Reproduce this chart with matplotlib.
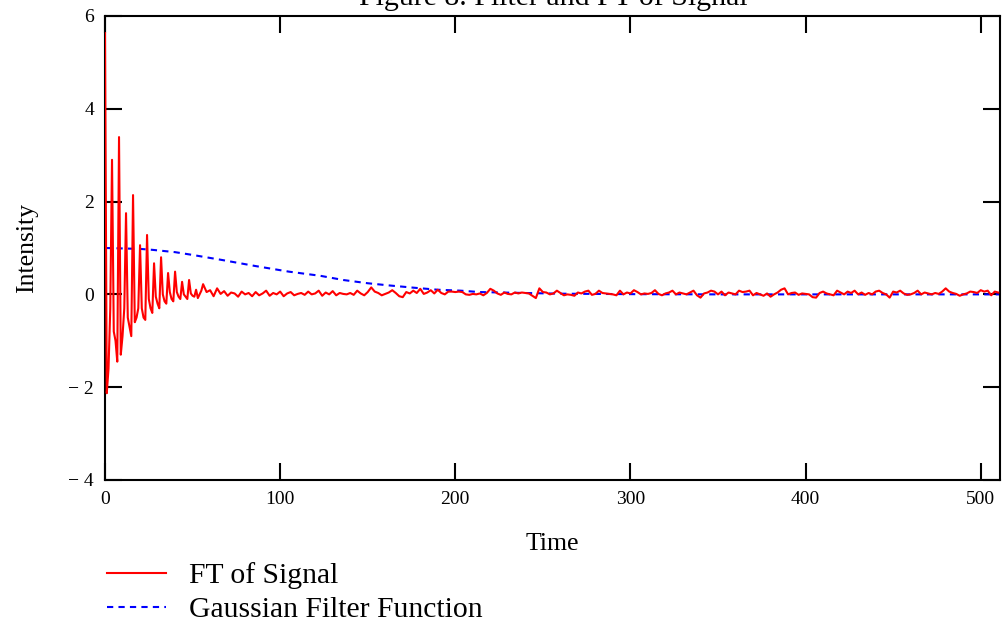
import matplotlib
matplotlib.use("Agg")
import matplotlib.pyplot as plt
import numpy as np

plt.rcParams["font.family"] = ["Liberation Serif", "DejaVu Serif"]

# ----------------------------------------------------------------------------
# Data
# ----------------------------------------------------------------------------

# FT of signal: t = 0..55 (step 1), then t = 56..510 (step 2)
ft_early = [
    5.63, -2.13, -1.6, -0.3, 2.9, -0.8, -1.0, -1.45, 3.39, -1.3,
    -0.9, -0.3, 1.75, -0.5, -0.7, -0.9, 2.14, -0.6, -0.5, -0.3,
    1.06, -0.3, -0.5, -0.55, 1.28, -0.1, -0.3, -0.4, 0.67, -0.05,
    -0.2, -0.3, 0.80, 0.0, -0.15, -0.2, 0.46, 0.05, -0.1, -0.15,
    0.49, 0.05, -0.05, -0.1, 0.27, 0.0, -0.05, -0.1, 0.31, 0.02,
    -0.03, -0.05, 0.10, -0.08, 0.0, 0.08,
]
ft_late = [
    # t = 56..144
    0.22, 0.05, 0.09, -0.04, 0.13, 0.01, 0.07, -0.03, 0.04, 0.02,
    -0.05, 0.06, 0.0, 0.03, -0.04, 0.05, -0.02, 0.02, 0.08, -0.03,
    0.03, 0.0, 0.06, -0.04, 0.02, 0.05, -0.02, 0.01, 0.03, -0.01,
    0.06, 0.0, 0.02, 0.08, -0.03, 0.04, 0.0, 0.07, -0.02, 0.03,
    0.01, 0.0, 0.03, -0.01, 0.08,
    # t = 146..236
    0.02, -0.02, 0.05, 0.15, 0.06, 0.03, -0.02, 0.01, 0.04, 0.09,
    0.03, -0.04, -0.06, 0.05, 0.02, 0.08, 0.03, 0.12, 0.01, 0.04,
    0.09, 0.02, 0.10, 0.03, 0.0, 0.06, 0.06, 0.05, 0.06, 0.05,
    0.0, -0.01, 0.01, 0.0, 0.02, -0.02, 0.03, 0.12, 0.08, 0.02,
    -0.01, 0.04, 0.01, 0.0, 0.04, 0.02,
    # t = 238..328
    0.04, 0.03, 0.02, -0.03, -0.08, 0.13, 0.05, 0.04, 0.0, 0.02,
    0.08, 0.03, -0.02, 0.0, -0.01, -0.03, 0.04, 0.02, 0.06, 0.08,
    -0.01, 0.01, 0.08, 0.03, 0.02, 0.01, 0.0, -0.02, 0.08, 0.0,
    0.04, 0.02, 0.09, 0.05, 0.0, 0.02, 0.01, 0.03, 0.09, 0.01,
    -0.02, 0.02, 0.04, 0.08, 0.0, 0.04,
    # t = 330..420
    0.02, 0.0, 0.04, 0.08, -0.02, -0.07, 0.02, 0.04, 0.08, 0.06,
    0.0, 0.06, -0.02, 0.04, 0.02, 0.0, 0.08, 0.05, 0.06, 0.08,
    -0.02, 0.03, 0.0, -0.03, 0.02, -0.05, 0.0, 0.04, 0.10, 0.13,
    0.0, 0.03, 0.04, -0.01, 0.02, 0.01, 0.0, -0.06, -0.07, 0.03,
    0.06, 0.02, 0.0, -0.02, 0.08, 0.04,
    # t = 422..510
    0.0, 0.06, 0.03, 0.08, 0.0, 0.04, -0.01, 0.03, 0.0, 0.06,
    0.08, 0.03, 0.0, -0.07, 0.06, 0.04, 0.08, 0.02, -0.01, 0.0,
    0.03, 0.08, 0.0, 0.04, 0.02, 0.0, 0.03, 0.01, 0.06, 0.13,
    0.06, 0.03, 0.01, -0.03, 0.0, 0.02, 0.06, 0.05, 0.03, 0.09,
    0.06, 0.08, -0.02, 0.06, 0.04,
]
ft_time = np.concatenate([np.arange(0, 56), np.arange(56, 511, 2)])
ft_values = np.array(ft_early + ft_late)

# Gaussian filter function
gauss_time = [0, 10, 20, 27, 40, 50, 67, 86, 105, 123, 136, 150, 163, 176,
              190, 203, 214, 233, 260, 300, 350, 511]
gauss_values = [1.0, 0.99, 0.98, 0.96, 0.91, 0.85, 0.74, 0.61, 0.49, 0.40,
                0.31, 0.24, 0.19, 0.145, 0.10, 0.08, 0.05, 0.035, 0.015,
                0.005, 0.0, 0.0]

x_ticks = [0, 100, 200, 300, 400, 500]
y_ticks = [-4, -2, 0, 2, 4, 6]
y_ticklabels = ["\u2212 4", "\u2212 2", "0", "2", "4", "6"]


def main():
    fig = plt.figure(figsize=(10.03, 6.24), dpi=100)
    ax = fig.add_axes([0.1047, 0.2308, 0.8923, 0.7436])

    ax.plot(ft_time, ft_values, color="#ff0000", lw=1.5,
            label="FT of Signal", zorder=3)
    ax.plot(gauss_time, gauss_values, color="#0000ff", lw=1.5,
            dashes=(3, 2.5), label="Gaussian Filter Function", zorder=2)

    ax.set_xlim(0, 511)
    ax.set_ylim(-4, 6)
    ax.set_xticks(x_ticks)
    ax.set_yticks(y_ticks)
    ax.set_yticklabels(y_ticklabels)
    ax.tick_params(direction="in", length=12, width=1.5, top=True,
                   right=True, labelsize=14)
    ax.tick_params(axis="x", pad=8)
    ax.tick_params(axis="y", pad=8)
    # Mathcad draws the y labels a little below the tick
    for lbl in ax.get_yticklabels():
        lbl.set_va("center_baseline")
    for sp in ax.spines.values():
        sp.set_linewidth(1.5)

    ax.set_xlabel("Time", fontsize=18.5, labelpad=18)
    ax.set_ylabel("Intensity", fontsize=18.5, labelpad=22)
    fig.text(0.552, 1.004, "Figure 8. Filter and FT of Signal", fontsize=21.5,
             ha="center", va="center")

    fig.legend(loc="upper left", bbox_to_anchor=(0.095, 0.118),
               fontsize=21.3, frameon=False, handlelength=2.0,
               handletextpad=0.78, labelspacing=0.25, borderaxespad=0)

    fig.savefig("out.png", dpi=100)


if __name__ == "__main__":
    main()
